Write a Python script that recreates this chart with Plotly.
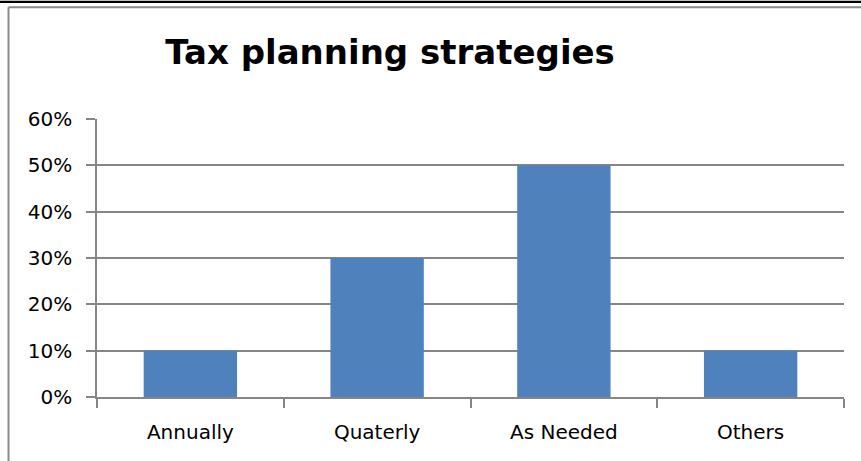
import plotly.graph_objects as go

categories = ["Annually", "Quaterly", "As Needed", "Others"]
values = [0.10, 0.30, 0.50, 0.10]
y_ticks = [0, 0.1, 0.2, 0.3, 0.4, 0.5, 0.6]
y_tick_labels = ["0%", "10%", "20%", "30%", "40%", "50%", "60%"]

W, H = 861, 461
L, R, T, B = 97, 844, 118.5, 397
pw, ph = R - L, B - T

def px(x):
    return (x - L) / pw

def py(y):
    return (B - y) / ph

grey = "#868686"
font = "DejaVu Sans, sans-serif"

fig = go.Figure(go.Bar(x=categories, y=values, marker=dict(color="#4F81BD", line=dict(width=0))))

fig.update_layout(
    width=W, height=H,
    margin=dict(l=L, r=W - R, t=T, b=H - B),
    paper_bgcolor="white", plot_bgcolor="white",
    bargap=0.5,
    showlegend=False,
    font=dict(family=font, color="black"),
    title=dict(text="<b>Tax planning strategies</b>", x=390 / W, xanchor="center",
               y=1 - 52 / H, yanchor="middle", xref="container", yref="container",
               font=dict(size=34, family=font, color="black")),
    xaxis=dict(showline=True, linecolor=grey, linewidth=1.5, ticks="outside", tickson="boundaries",
               ticklen=9, tickcolor=grey, tickwidth=1.5, tickfont=dict(size=20),
               showgrid=False, fixedrange=True, ticklabelstandoff=16),
    yaxis=dict(range=[0, 0.6], tickvals=y_ticks, ticktext=y_tick_labels, showline=True,
               linecolor=grey, linewidth=1.5, ticks="outside", ticklen=9, tickcolor=grey,
               tickwidth=1.5, tickfont=dict(size=20), showgrid=True, gridcolor=grey,
               gridwidth=1.5, zeroline=False, ticklabelstandoff=10, fixedrange=True),
    shapes=[
        dict(type="rect", xref="paper", yref="paper", x0=px(0), x1=px(W), y0=py(0), y1=py(2.3),
             fillcolor="black", line=dict(width=0), layer="above"),
        dict(type="line", xref="paper", yref="paper", x0=px(8.5), x1=px(W), y0=py(6.5), y1=py(6.5),
             line=dict(color="#8a8a8a", width=2)),
        dict(type="line", xref="paper", yref="paper", x0=px(8.5), x1=px(8.5), y0=py(6.5), y1=py(H),
             line=dict(color="#8a8a8a", width=2)),
    ],
)

fig.write_html("out.html", config={"displayModeBar": False},
               post_script="document.body.style.margin='0';")
